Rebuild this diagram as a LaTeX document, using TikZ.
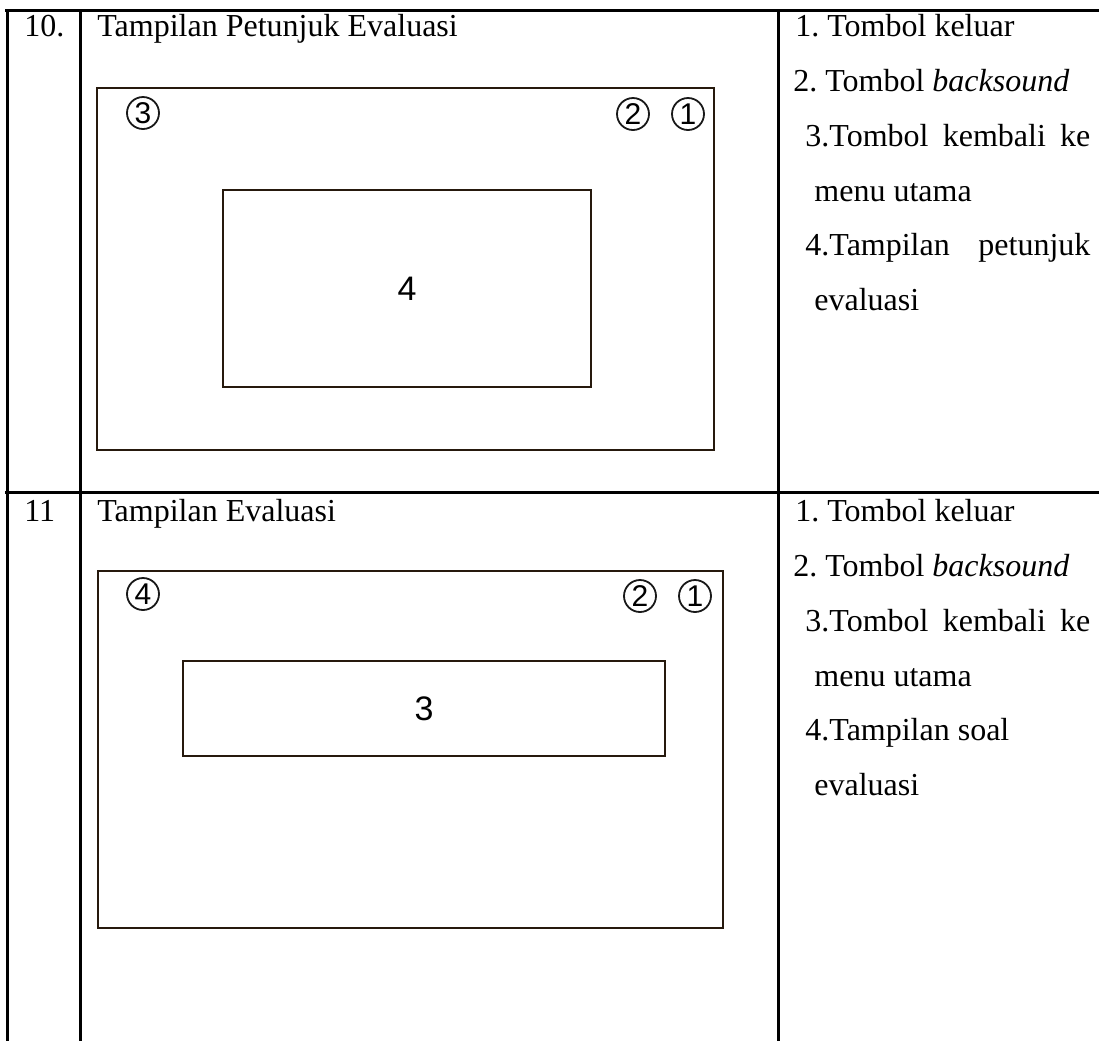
\documentclass[tikz,border=0pt]{standalone}
\usepackage{fontspec}
\setmainfont{Liberation Serif}
\newfontfamily\labelsans{Liberation Sans}
\frenchspacing
\begin{document}
\begin{tikzpicture}[x=0.5pt,y=-0.5pt,
  rule/.style={line width=1.5pt,black},
  screen/.style={draw=black!80!brown,line width=1pt},
  txt/.style={anchor=base west,inner sep=0pt,font=\fontsize{16pt}{19pt}\selectfont},
  ringnum/.style={draw=black!90,line width=0.9pt,circle,minimum size=16pt,inner sep=0pt,
               font=\labelsans\fontsize{15pt}{17pt}\selectfont},
  tag/.style={inner sep=0pt,font=\labelsans\fontsize{17pt}{19pt}\selectfont}]
\useasboundingbox (0,0) rectangle (1099,1041);

% table rules
\draw[rule] (5,10) -- (1099,10);
\draw[rule] (5,492) -- (1099,492);
\draw[rule] (7,10) -- (7,1041);
\draw[rule] (80,10) -- (80,1041);
\draw[rule] (778,10) -- (778,1041);

% ---- row 10 ----
\node[txt] (n10) at (24,36) {10.};
\node[txt] (t10) at (97,36) {Tampilan Petunjuk Evaluasi};
\node[txt] (a1) at (795,36) {1. Tombol keluar};
\node[txt] (a2) at (793,91) {2. Tombol \textit{backsound}};
\node[txt] (a3) at (805,146) {\makebox[142.5pt][s]{3.Tombol kembali ke}};
\node[txt] (a3b) at (814,201) {menu utama};
\node[txt] (a4) at (805,255) {\makebox[142.5pt][s]{4.Tampilan petunjuk}};
\node[txt] (a4b) at (814,310) {evaluasi};

\draw[screen] (97,88) rectangle (714,450);
\draw[screen] (223,190) rectangle (591,387);
\node[tag] (p4) at (407,289) {4};
\node[ringnum] (c3) at (143,113) {3};
\node[ringnum] (c2) at (633,114) {2};
\node[ringnum] (c1) at (688,114) {1};

% ---- row 11 ----
\node[txt] (n11) at (24,521) {11};
\node[txt] (t11) at (97,521) {Tampilan Evaluasi};
\node[txt] (b1) at (795,521) {1. Tombol keluar};
\node[txt] (b2) at (793,576) {2. Tombol \textit{backsound}};
\node[txt] (b3) at (805,631) {\makebox[142.5pt][s]{3.Tombol kembali ke}};
\node[txt] (b3b) at (814,686) {menu utama};
\node[txt] (b4) at (805,740) {4.Tampilan soal};
\node[txt] (b4b) at (814,795) {evaluasi};

\draw[screen] (98,571) rectangle (723,928);
\draw[screen] (183,661) rectangle (665,756);
\node[tag] (q3) at (424,709) {3};
\node[ringnum] (d4) at (143,594) {4};
\node[ringnum] (d2) at (640,596) {2};
\node[ringnum] (d1) at (695,596) {1};
\end{tikzpicture}
\end{document}
